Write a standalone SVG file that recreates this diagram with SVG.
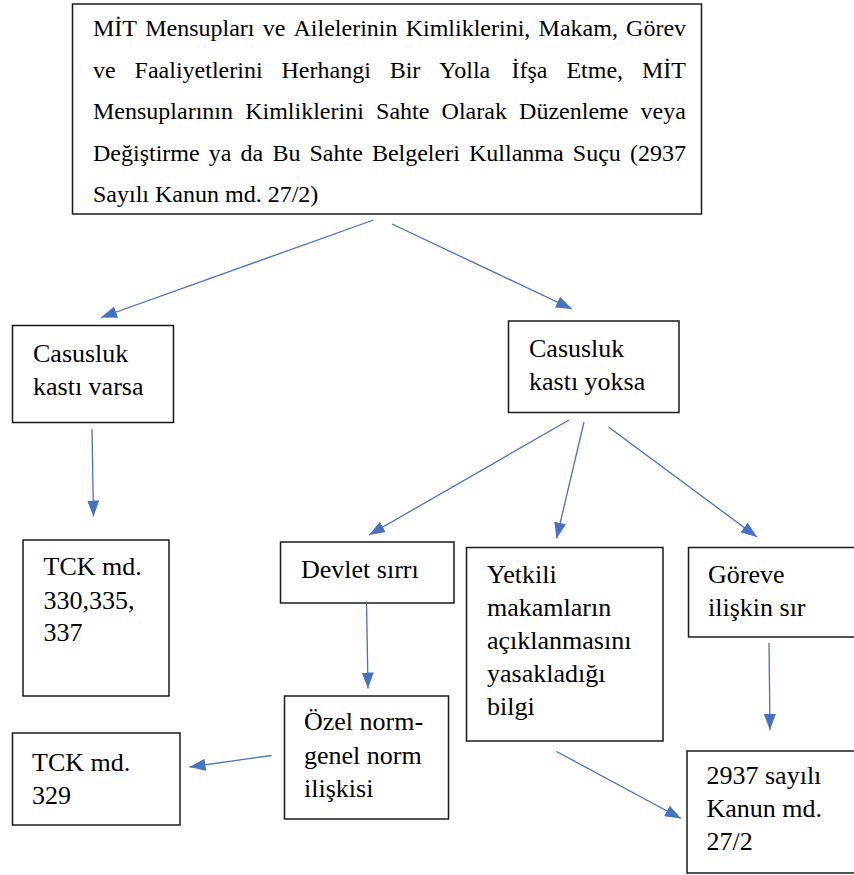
<svg xmlns="http://www.w3.org/2000/svg" width="854" height="875" viewBox="0 0 854 875">
<style>
.box{fill:#fff;stroke:#1a1a1a;stroke-width:1.5}
.t{font-size:26px;fill:#000;font-family:"Liberation Serif","Times New Roman",serif}
.tt{font-size:24px;fill:#000;font-family:"Liberation Serif","Times New Roman",serif}
.c{stroke:#4472C4;stroke-width:1.3;fill:none;marker-end:url(#ah)}
</style>
<defs>
<marker id="ah" viewBox="0 0 16 12" refX="16" refY="6" markerWidth="16" markerHeight="12" markerUnits="userSpaceOnUse" orient="auto">
<path d="M0,0 L16,6 L0,12 Z" fill="#4472C4"/>
</marker>
</defs>
<rect width="854" height="875" fill="#fff"/>
<g id="n-top">
<rect class="box" x="72.5" y="4" width="629" height="210"/>
<text class="tt" y="36"><tspan x="93">MİT</tspan><tspan x="145.2">Mensupları</tspan><tspan x="262.7">ve</tspan><tspan x="293.5">Ailelerinin</tspan><tspan x="405.7">Kimliklerini,</tspan><tspan x="538.6">Makam,</tspan><tspan x="626.1">Görev</tspan></text>
<text class="tt" y="77.5"><tspan x="93">ve</tspan><tspan x="134.6">Faaliyetlerini</tspan><tspan x="281.5">Herhangi</tspan><tspan x="389.7">Bir</tspan><tspan x="439.3">Yolla</tspan><tspan x="511.5">İfşa</tspan><tspan x="566.4">Etme,</tspan><tspan x="642">MİT</tspan></text>
<text class="tt" y="119"><tspan x="93">Mensuplarının</tspan><tspan x="245.2">Kimliklerini</tspan><tspan x="376.1">Sahte</tspan><tspan x="441.6">Olarak</tspan><tspan x="519.1">Düzenleme</tspan><tspan x="640.6">veya</tspan></text>
<text class="tt" y="160.5"><tspan x="93">Değiştirme</tspan><tspan x="208.8">ya</tspan><tspan x="240.6">da</tspan><tspan x="272.4">Bu</tspan><tspan x="309.5">Sahte</tspan><tspan x="371.9">Belgeleri</tspan><tspan x="469">Kullanma</tspan><tspan x="572.8">Suçu</tspan><tspan x="629.9">(2937</tspan></text>
<text class="tt" x="93" y="202">Sayılı Kanun md. 27/2)</text>
</g>
<g id="n-varsa">
<rect class="box" x="12.5" y="325.5" width="161" height="97"/>
<text class="t"><tspan x="33" y="362">Casusluk</tspan><tspan x="33" y="395">kastı varsa</tspan></text>
</g>
<g id="n-yoksa">
<rect class="box" x="508.5" y="321" width="170.5" height="91.5"/>
<text class="t"><tspan x="529" y="357">Casusluk</tspan><tspan x="529" y="390">kastı yoksa</tspan></text>
</g>
<g id="n-tck330">
<rect class="box" x="23" y="540" width="146" height="156"/>
<text class="t"><tspan x="43.5" y="575">TCK md.</tspan><tspan x="43.5" y="608.5">330,335,</tspan><tspan x="43.5" y="641">337</tspan></text>
</g>
<g id="n-devlet">
<rect class="box" x="280.5" y="542" width="173.5" height="61"/>
<text class="t" x="301" y="577.5">Devlet sırrı</text>
</g>
<g id="n-yetkili">
<rect class="box" x="466.5" y="547.5" width="196.5" height="193.5"/>
<text class="t"><tspan x="487" y="583">Yetkili</tspan><tspan x="487" y="616">makamların</tspan><tspan x="487" y="649">açıklanmasını</tspan><tspan x="487" y="682">yasakladığı</tspan><tspan x="487" y="715">bilgi</tspan></text>
</g>
<g id="n-goreve">
<rect class="box" x="688.5" y="547.5" width="180" height="89.5"/>
<text class="t"><tspan x="708" y="582.5">Göreve</tspan><tspan x="708" y="615.5">ilişkin sır</tspan></text>
</g>
<g id="n-ozel">
<rect class="box" x="284.5" y="696" width="164" height="123"/>
<text class="t"><tspan x="304" y="730">Özel norm-</tspan><tspan x="304" y="763.5">genel norm</tspan><tspan x="304" y="797">ilişkisi</tspan></text>
</g>
<g id="n-tck329">
<rect class="box" x="12.5" y="733" width="167.5" height="92"/>
<text class="t"><tspan x="32" y="771">TCK md.</tspan><tspan x="32" y="804">329</tspan></text>
</g>
<g id="n-2937">
<rect class="box" x="687" y="751" width="180" height="122"/>
<text class="t"><tspan x="706.5" y="783.5">2937 sayılı</tspan><tspan x="706.5" y="817">Kanun md.</tspan><tspan x="706.5" y="850">27/2</tspan></text>
</g>
<g id="connectors">
<line class="c" x1="373.5" y1="220" x2="101" y2="317.5"/>
<line class="c" x1="392" y1="224" x2="572" y2="309"/>
<line class="c" x1="92" y1="429" x2="93.5" y2="516.5"/>
<line class="c" x1="569" y1="420" x2="369" y2="535"/>
<line class="c" x1="584" y1="422" x2="556.5" y2="538.5"/>
<line class="c" x1="608.5" y1="427" x2="757" y2="537"/>
<line class="c" x1="366.5" y1="601.5" x2="368" y2="688.5"/>
<line class="c" x1="769" y1="643" x2="770" y2="730"/>
<line class="c" x1="271.5" y1="755.5" x2="189.5" y2="767"/>
<line class="c" x1="556.5" y1="751.5" x2="681" y2="818.5"/>
</g>
</svg>
